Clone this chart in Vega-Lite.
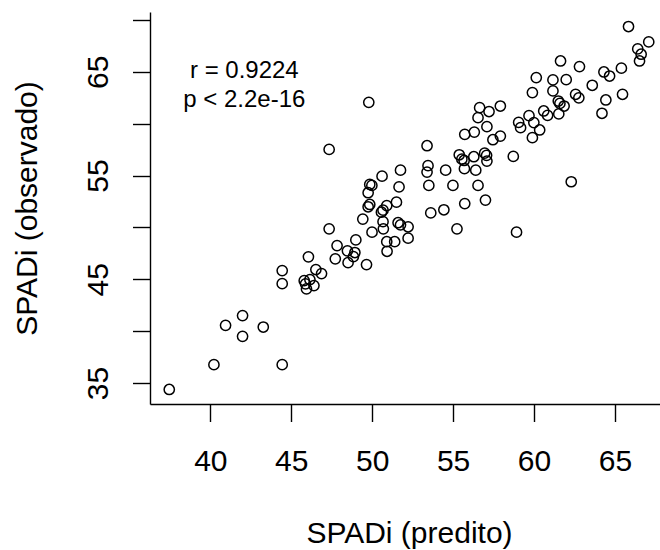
{
  "$schema": "https://vega.github.io/schema/vega-lite/v6.json",
  "width": 518,
  "height": 392,
  "autosize": {"type": "none"},
  "padding": {"left": 150, "top": 12, "right": 0, "bottom": 146},
  "background": "white",
  "config": {
    "view": {"stroke": null},
    "font": "Liberation Sans",
    "axis": {
      "grid": false,
      "domainColor": "black",
      "domainWidth": 1.4,
      "tickColor": "black",
      "tickWidth": 1.4,
      "tickSize": 17.5,
      "labelColor": "black",
      "labelFont": "Liberation Sans",
      "labelFontSize": 30,
      "titleColor": "black",
      "titleFont": "Liberation Sans",
      "titleFontSize": 30,
      "titleFontWeight": "normal",
      "labelOverlap": false,
      "labelFlush": false
    }
  },
  "layer": [
    {
      "data": {
        "values": [
          {"predito": 37.46, "observado": 34.38},
          {"predito": 40.22, "observado": 36.77},
          {"predito": 44.44, "observado": 36.77},
          {"predito": 40.94, "observado": 40.56},
          {"predito": 41.99, "observado": 41.5},
          {"predito": 41.99, "observado": 39.5},
          {"predito": 43.27, "observado": 40.4},
          {"predito": 44.44, "observado": 45.84},
          {"predito": 44.44, "observado": 44.58},
          {"predito": 45.8, "observado": 44.87},
          {"predito": 45.88, "observado": 44.56},
          {"predito": 45.94, "observado": 44.07},
          {"predito": 46.15, "observado": 44.97},
          {"predito": 46.4, "observado": 44.39},
          {"predito": 46.06, "observado": 47.16},
          {"predito": 46.52, "observado": 45.94},
          {"predito": 46.87, "observado": 45.55},
          {"predito": 47.34, "observado": 49.86},
          {"predito": 47.83, "observado": 48.25},
          {"predito": 47.72, "observado": 46.97},
          {"predito": 48.47, "observado": 47.74},
          {"predito": 48.51, "observado": 46.6},
          {"predito": 48.99, "observado": 48.79},
          {"predito": 48.93, "observado": 47.58},
          {"predito": 48.84, "observado": 47.19},
          {"predito": 49.65, "observado": 46.42},
          {"predito": 49.42, "observado": 50.8},
          {"predito": 49.99, "observado": 49.54},
          {"predito": 50.69, "observado": 49.86},
          {"predito": 50.9, "observado": 48.62},
          {"predito": 50.92, "observado": 47.7},
          {"predito": 51.39, "observado": 48.62},
          {"predito": 50.57, "observado": 51.47},
          {"predito": 50.67, "observado": 51.66},
          {"predito": 50.67, "observado": 50.55},
          {"predito": 50.9, "observado": 52.1},
          {"predito": 51.5, "observado": 52.43},
          {"predito": 51.6, "observado": 50.45},
          {"predito": 51.75, "observado": 50.25},
          {"predito": 52.22, "observado": 50.06},
          {"predito": 52.22, "observado": 48.96},
          {"predito": 49.75, "observado": 51.99},
          {"predito": 49.85, "observado": 52.21},
          {"predito": 49.75, "observado": 53.34},
          {"predito": 49.85, "observado": 54.14},
          {"predito": 49.98, "observado": 54.05},
          {"predito": 50.61, "observado": 54.94},
          {"predito": 51.75, "observado": 55.52},
          {"predito": 51.66, "observado": 53.9},
          {"predito": 53.45, "observado": 55.95},
          {"predito": 53.39, "observado": 55.33},
          {"predito": 54.54, "observado": 55.52},
          {"predito": 55.7, "observado": 55.66},
          {"predito": 56.4, "observado": 55.52},
          {"predito": 53.5, "observado": 54.05},
          {"predito": 54.99, "observado": 54.05},
          {"predito": 56.54, "observado": 54.05},
          {"predito": 55.72, "observado": 52.3},
          {"predito": 57.0, "observado": 52.63},
          {"predito": 53.62, "observado": 51.4},
          {"predito": 54.43, "observado": 51.7},
          {"predito": 55.24, "observado": 49.86},
          {"predito": 58.92, "observado": 49.54},
          {"predito": 53.39, "observado": 57.87},
          {"predito": 55.38, "observado": 57.0},
          {"predito": 55.54, "observado": 56.58},
          {"predito": 55.68, "observado": 56.45},
          {"predito": 56.28, "observado": 56.81},
          {"predito": 56.95, "observado": 57.15},
          {"predito": 57.07, "observado": 56.95},
          {"predito": 57.09, "observado": 56.39},
          {"predito": 58.72, "observado": 56.84},
          {"predito": 55.72, "observado": 58.97},
          {"predito": 56.31, "observado": 59.19},
          {"predito": 57.46, "observado": 58.45},
          {"predito": 57.92, "observado": 58.8},
          {"predito": 57.09, "observado": 59.71},
          {"predito": 56.54, "observado": 60.58},
          {"predito": 56.64, "observado": 61.54},
          {"predito": 57.22, "observado": 61.17},
          {"predito": 57.92, "observado": 61.7},
          {"predito": 59.05, "observado": 60.13},
          {"predito": 59.17, "observado": 59.61},
          {"predito": 59.99, "observado": 60.1},
          {"predito": 60.35, "observado": 59.39},
          {"predito": 59.9, "observado": 58.65},
          {"predito": 59.69, "observado": 60.77},
          {"predito": 60.6, "observado": 61.22},
          {"predito": 60.84, "observado": 60.8},
          {"predito": 61.53, "observado": 60.94},
          {"predito": 61.5, "observado": 62.18},
          {"predito": 61.6, "observado": 61.95},
          {"predito": 61.86, "observado": 61.7},
          {"predito": 59.9, "observado": 62.99},
          {"predito": 60.14, "observado": 64.44},
          {"predito": 61.17, "observado": 63.15},
          {"predito": 61.17, "observado": 64.21},
          {"predito": 61.99, "observado": 64.24},
          {"predito": 61.64, "observado": 66.04},
          {"predito": 62.81, "observado": 65.5},
          {"predito": 62.57, "observado": 62.83},
          {"predito": 62.77, "observado": 62.49},
          {"predito": 63.6, "observado": 63.7},
          {"predito": 64.32, "observado": 64.98},
          {"predito": 64.67, "observado": 64.59},
          {"predito": 65.4, "observado": 65.35},
          {"predito": 65.47, "observado": 62.83},
          {"predito": 64.44, "observado": 62.28},
          {"predito": 64.2, "observado": 61.0},
          {"predito": 65.84, "observado": 69.36},
          {"predito": 67.09, "observado": 67.88},
          {"predito": 66.41, "observado": 67.2},
          {"predito": 66.62, "observado": 66.69},
          {"predito": 66.52, "observado": 66.04},
          {"predito": 62.3, "observado": 54.4},
          {"predito": 49.79, "observado": 62.05},
          {"predito": 47.34, "observado": 57.52}
        ]
      },
      "mark": {"type": "point", "shape": "circle", "filled": false, "color": "black", "size": 105, "strokeWidth": 1.5, "opacity": 1, "clip": false},
      "encoding": {
        "x": {
          "field": "predito", "type": "quantitative",
          "scale": {"domain": [36.27, 68.28], "nice": false, "zero": false},
          "axis": {
            "values": [40, 45, 50, 55, 60, 65],
            "title": "SPADi (predito)",
            "labelBaseline": "middle",
            "labelPadding": 40,
            "titleY": 129,
            "titleBaseline": "middle",
            "titleAnchor": "middle"
          }
        },
        "y": {
          "field": "observado", "type": "quantitative",
          "scale": {"domain": [32.98, 70.76], "nice": false, "zero": false},
          "axis": {
            "values": [35, 40, 45, 50, 55, 60, 65, 70],
            "labelExpr": "datum.value % 10 == 5 ? datum.label : ''",
            "title": "SPADi (observado)",
            "labelAngle": 270,
            "labelAlign": "center",
            "labelBaseline": "middle",
            "labelPadding": 34.5,
            "titleX": -122.4,
            "titleAngle": 270,
            "titleBaseline": "middle",
            "titleAnchor": "middle"
          }
        }
      }
    },
    {
      "data": {
        "values": [
          {"predito": 42.1, "observado": 65.05, "texto": "r = 0.9224"},
          {"predito": 42.1, "observado": 62.27, "texto": "p < 2.2e-16"}
        ]
      },
      "mark": {"type": "text", "font": "Liberation Sans", "fontSize": 24, "color": "black", "align": "center", "baseline": "middle"},
      "encoding": {
        "x": {"field": "predito", "type": "quantitative"},
        "y": {"field": "observado", "type": "quantitative"},
        "text": {"field": "texto"}
      }
    }
  ]
}
